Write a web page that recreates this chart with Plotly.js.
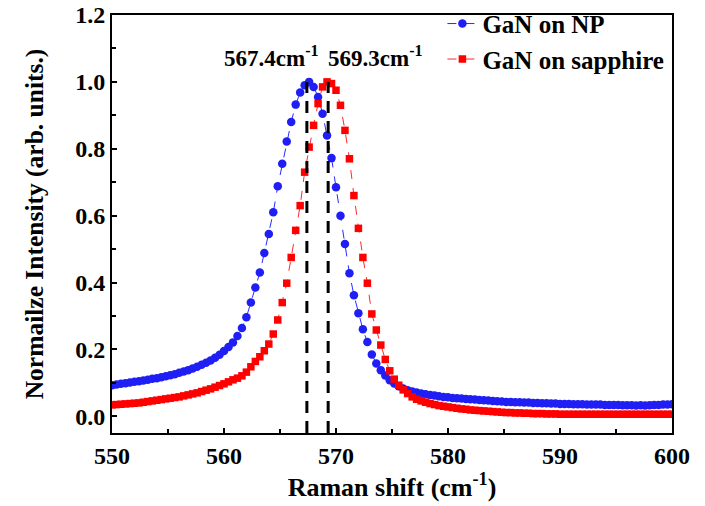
<!DOCTYPE html>
<html>
<head>
<meta charset="utf-8">
<script src="https://cdn.plot.ly/plotly-3.0.1.min.js"></script>
<style>
  html, body { margin: 0; padding: 0; background: #ffffff; }
  #chart { width: 705px; height: 506px; }
</style>
</head>
<body>
<div id="chart"></div>
<script>
// Raman shift sample positions (cm^-1), shared by both spectra
const ramanShift = [
  550.0, 550.4, 550.8, 551.2, 551.6, 552.0, 552.4, 552.8, 553.2, 553.6,
  554.0, 554.4, 554.8, 555.2, 555.6, 556.0, 556.4, 556.8, 557.2, 557.6,
  558.0, 558.4, 558.8, 559.2, 559.6, 560.0, 560.4, 560.8, 561.2, 561.6,
  562.0, 562.4, 562.8, 563.2, 563.6, 564.0, 564.4, 564.8, 565.2, 565.6,
  566.0, 566.4, 566.8, 567.2, 567.6, 568.0, 568.4, 568.8, 569.2, 569.6,
  570.0, 570.4, 570.8, 571.2, 571.6, 572.0, 572.4, 572.8, 573.2, 573.6,
  574.0, 574.4, 574.8, 575.2, 575.6, 576.0, 576.4, 576.8, 577.2, 577.6,
  578.0, 578.4, 578.8, 579.2, 579.6, 580.0, 580.4, 580.8, 581.2, 581.6,
  582.0, 582.4, 582.8, 583.2, 583.6, 584.0, 584.4, 584.8, 585.2, 585.6,
  586.0, 586.4, 586.8, 587.2, 587.6, 588.0, 588.4, 588.8, 589.2, 589.6,
  590.0, 590.4, 590.8, 591.2, 591.6, 592.0, 592.4, 592.8, 593.2, 593.6,
  594.0, 594.4, 594.8, 595.2, 595.6, 596.0, 596.4, 596.8, 597.2, 597.6,
  598.0, 598.4, 598.8, 599.2, 599.6, 600.0
];

// Normalized E2(high) intensity, GaN grown on NP
const ganOnNP = [
  0.093, 0.095, 0.097, 0.099, 0.101, 0.103, 0.105, 0.107, 0.109, 0.112,
  0.114, 0.117, 0.120, 0.123, 0.126, 0.130, 0.134, 0.138, 0.143, 0.148,
  0.154, 0.160, 0.167, 0.175, 0.184, 0.195, 0.207, 0.221, 0.240, 0.264,
  0.296, 0.340, 0.385, 0.430, 0.488, 0.545, 0.610, 0.688, 0.755, 0.822,
  0.880, 0.932, 0.968, 0.990, 1.000, 0.985, 0.955, 0.905, 0.840, 0.772,
  0.685, 0.600, 0.515, 0.428, 0.362, 0.308, 0.260, 0.222, 0.185, 0.158,
  0.138, 0.122, 0.108, 0.098, 0.090, 0.083, 0.078, 0.074, 0.071, 0.068,
  0.066, 0.064, 0.062, 0.060, 0.058, 0.057, 0.055, 0.054, 0.053, 0.052,
  0.051, 0.050, 0.049, 0.048, 0.047, 0.046, 0.045, 0.044, 0.043, 0.043,
  0.042, 0.042, 0.041, 0.041, 0.040, 0.040, 0.039, 0.039, 0.038, 0.038,
  0.037, 0.037, 0.037, 0.036, 0.036, 0.036, 0.035, 0.035, 0.035, 0.035,
  0.034, 0.034, 0.034, 0.034, 0.033, 0.033, 0.033, 0.032, 0.033, 0.032,
  0.033, 0.034, 0.034, 0.035, 0.035, 0.036
];

// Normalized E2(high) intensity, GaN grown on sapphire
const ganOnSapphire = [
  0.034, 0.035, 0.036, 0.037, 0.038, 0.039, 0.040, 0.042, 0.044, 0.046,
  0.048, 0.050, 0.052, 0.054, 0.056, 0.058, 0.061, 0.064, 0.067, 0.070,
  0.074, 0.078, 0.082, 0.087, 0.092, 0.097, 0.103, 0.109, 0.114, 0.121,
  0.132, 0.148, 0.164, 0.178, 0.196, 0.216, 0.246, 0.288, 0.340, 0.398,
  0.475, 0.556, 0.630, 0.730, 0.805, 0.870, 0.935, 0.985, 1.000, 0.995,
  0.975, 0.930, 0.855, 0.770, 0.660, 0.562, 0.475, 0.398, 0.306, 0.258,
  0.213, 0.170, 0.136, 0.111, 0.093, 0.079, 0.068, 0.058, 0.051, 0.046,
  0.042, 0.038, 0.035, 0.032, 0.030, 0.028, 0.026, 0.024, 0.022, 0.021,
  0.019, 0.018, 0.017, 0.016, 0.015, 0.014, 0.013, 0.012, 0.011, 0.011,
  0.010, 0.010, 0.009, 0.009, 0.008, 0.008, 0.008, 0.007, 0.007, 0.007,
  0.006, 0.006, 0.006, 0.006, 0.006, 0.006, 0.006, 0.006, 0.006, 0.006,
  0.006, 0.006, 0.006, 0.006, 0.006, 0.006, 0.006, 0.006, 0.006, 0.006,
  0.006, 0.006, 0.006, 0.006, 0.006, 0.006
];

// Peak positions marked with dashed guides
const peakPositions = [567.4, 569.3];
const peakLabels = ['567.4cm<sup>-1</sup>', '569.3cm<sup>-1</sup>'];
const seriesNames = ['GaN on NP', 'GaN on sapphire'];

const serif = 'Liberation Serif, Times New Roman, serif';

const traces = [
  {
    x: ramanShift, y: ganOnNP, name: seriesNames[0],
    type: 'scatter', mode: 'lines+markers',
    line: { color: '#2a2aff', width: 1, dash: 'dash' },
    marker: { symbol: 'circle', size: 8.5, color: '#1f1ff5' }
  },
  {
    x: ramanShift, y: ganOnSapphire, name: seriesNames[1],
    type: 'scatter', mode: 'lines+markers',
    line: { color: '#ff2a2a', width: 1, dash: 'dash' },
    marker: { symbol: 'square', size: 7.5, color: '#ff0000' }
  }
];

const shapes = peakPositions.map(p => ({
  type: 'line', xref: 'x', yref: 'y',
  x0: p, x1: p, y0: -0.05, y1: 1.0,
  line: { color: '#000000', width: 3, dash: '12px,8px' }
}));

const annotations = [
  { x: peakPositions[0], y: 1.076, xanchor: 'right', xshift: 14 },
  { x: peakPositions[1], y: 1.076, xanchor: 'left', xshift: -2 }
].map((a, i) => Object.assign(a, {
  xref: 'x', yref: 'y', yanchor: 'middle', showarrow: false,
  text: peakLabels[i],
  font: { family: serif, size: 23, color: '#000000', weight: 'bold' }
}));

const layout = {
  width: 705, height: 506,
  margin: { l: 112, r: 33, t: 15, b: 73, autoexpand: false },
  paper_bgcolor: '#ffffff', plot_bgcolor: '#ffffff',
  showlegend: true,
  legend: {
    x: 0.59, y: 1.034, xanchor: 'left', yanchor: 'top',
    bgcolor: 'rgba(0,0,0,0)', borderwidth: 0,
    font: { family: serif, size: 25, color: '#000000', weight: 'bold' },
    itemwidth: 30, tracegroupgap: 0
  },
  xaxis: {
    range: [550, 600], dtick: 10, tick0: 550,
    showgrid: false, zeroline: false,
    showline: true, linecolor: '#000000', linewidth: 2, mirror: true,
    ticks: 'inside', ticklen: 5, tickwidth: 2, tickcolor: '#000000',
    minor: { dtick: 5, ticks: 'inside', ticklen: 4, tickwidth: 2, tickcolor: '#000000' },
    tickfont: { family: serif, size: 24, color: '#000000', weight: 'bold' },
    title: {
      text: 'Raman shift (cm<sup>-1</sup>)', standoff: 8,
      font: { family: serif, size: 26, color: '#000000', weight: 'bold' }
    }
  },
  yaxis: {
    range: [-0.05, 1.2], dtick: 0.2, tick0: 0, tickformat: '.1f',
    showgrid: false, zeroline: false,
    showline: true, linecolor: '#000000', linewidth: 2, mirror: true,
    ticks: 'inside', ticklen: 5, tickwidth: 2, tickcolor: '#000000',
    minor: { dtick: 0.1, ticks: 'inside', ticklen: 4, tickwidth: 2, tickcolor: '#000000' },
    tickfont: { family: serif, size: 24, color: '#000000', weight: 'bold' },
    title: {
      text: 'Normailze Intensity (arb. units.)', standoff: 24,
      font: { family: serif, size: 25.5, color: '#000000', weight: 'bold' }
    }
  },
  shapes: shapes,
  annotations: annotations
};

Plotly.newPlot('chart', traces, layout, { displayModeBar: false, staticPlot: true });
</script>
</body>
</html>
